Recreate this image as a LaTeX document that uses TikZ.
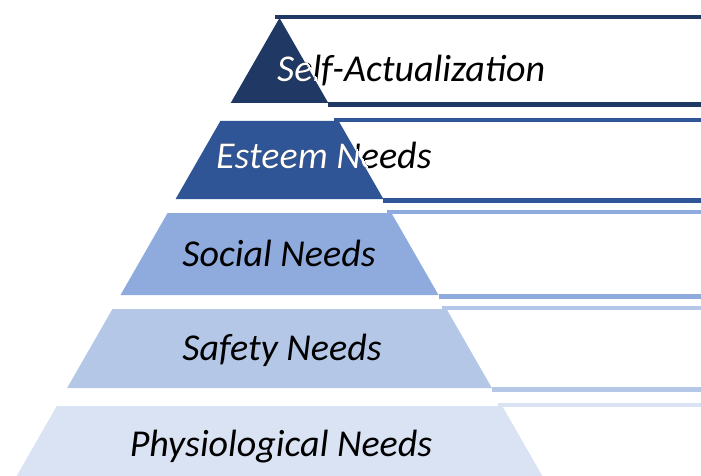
\documentclass[tikz,border=0pt]{standalone}
\usepackage{xcolor}
\usepackage{fontspec}
\setmainfont{Carlito}
\usepackage{tikz}
\definecolor{levelA}{HTML}{203864}
\definecolor{levelB}{HTML}{2F5597}
\definecolor{levelC}{HTML}{8FAADC}
\definecolor{levelD}{HTML}{B4C7E7}
\definecolor{levelE}{HTML}{DAE3F3}

\begin{document}
\begin{tikzpicture}[x=1pt,y=-1pt,
  lvltext/.style={font=\fontsize{38}{40}\selectfont\itshape, inner sep=0pt}]
\useasboundingbox (0,0) rectangle (701,476);
\clip (0,0) rectangle (701,476);

\foreach \yt/\yb/\col in {18/103/levelA,121/199/levelB,213/295/levelC,309/388/levelD,406/490/levelE}{
\pgfmathsetmacro{\ht}{0.574*(\yt-18)}
\pgfmathsetmacro{\hb}{0.574*(\yb-18)}
\fill[\col] (279.5-\ht,\yt) -- (279.5+\ht,\yt) -- (279.5+\hb,\yb) -- (279.5-\hb,\yb) -- cycle;
\fill[white] (282+\ht,\yt+2.5) -- (720,\yt+2.5) -- (720,\yb-1) -- (282+\hb,\yb-1) -- cycle;
\draw[\col,line width=4.5pt] (275+\ht,\yt-1) -- (720,\yt-1);
\draw[\col,line width=4.5pt] (279.5+\hb,\yb+1.5) -- (720,\yb+1.5);
}

\node[lvltext,anchor=base west] (selfTxt) at (277,82) {Self-Actualization};
\node[lvltext,anchor=base west] (esteemTxt) at (216,168.5) {Esteem Needs};
\node[lvltext,anchor=base] (socialTxt) at (279,266.5) {Social Needs};
\node[lvltext,anchor=base] (safetyTxt) at (282,360.5) {Safety Needs};
\node[lvltext,anchor=base] (physioTxt) at (281,456) {Physiological Needs};

% white part of the text over the two dark levels
\begin{scope}
\clip (279.5,18) -- (282,18) -- (330.8,103) -- (230.7,103) -- cycle;
\node[lvltext,white,anchor=base west] (selfTxtW) at (277,82) {Self-Actualization};
\end{scope}
\begin{scope}
\clip (220.6,121) -- (341.1,121) -- (386,199) -- (175.1,199) -- cycle;
\node[lvltext,white,anchor=base west] (esteemTxtW) at (216,168.5) {Esteem Needs};
\end{scope}
\end{tikzpicture}
\end{document}
